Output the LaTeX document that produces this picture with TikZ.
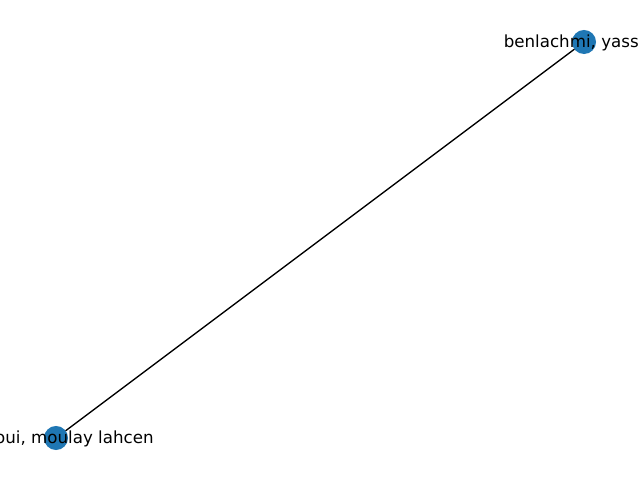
\documentclass[tikz,border=0pt]{standalone}
\usepackage{fontspec}
\setmainfont{DejaVu Sans}
\definecolor{nxblue}{HTML}{1F77B4}
\begin{document}
\begin{tikzpicture}[x=0.01in,y=-0.01in,
  dot/.style={circle,fill=nxblue,draw=none,minimum size=0.24in,inner sep=0pt,outer sep=0pt},
  lbl/.style={inner sep=0pt,outer sep=0pt,font=\fontsize{12bp}{14bp}\selectfont,text=black},
  edge/.style={draw=black,line width=1bp}]
\useasboundingbox (0,0) rectangle (640,480);
\fill[white] (0,0) rectangle (640,480);
\node[dot] (a) at (584,42) {};
\node[dot] (b) at (56,438) {};
\draw[edge] (a) -- (b);
\node[lbl,anchor=base] (la) at (584,47.5) {benlachmi, yassine};
\node[lbl,anchor=base east] (lb) at (153.6,443.3) {oui, moulay lahcen};
\end{tikzpicture}
\end{document}
